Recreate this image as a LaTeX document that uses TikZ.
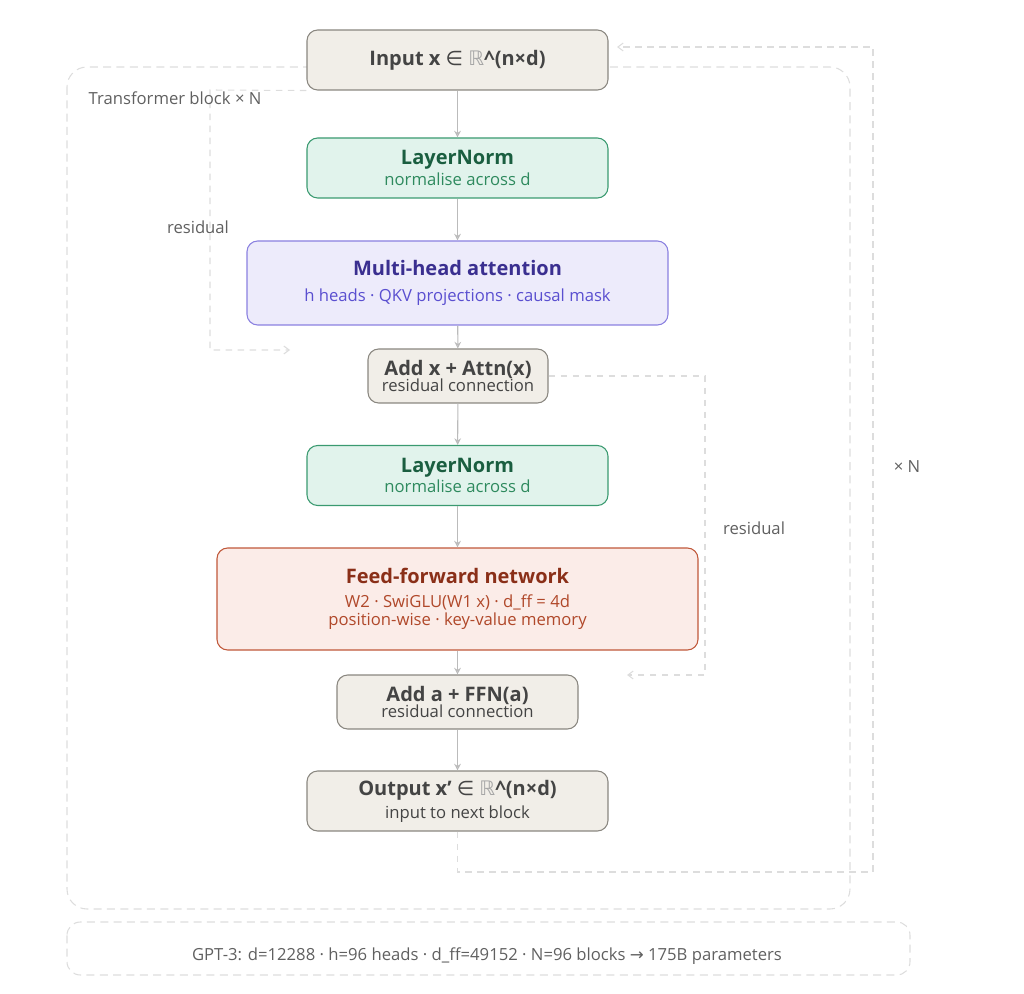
\documentclass[tikz,border=0pt]{standalone}
\usepackage{fontspec}
\setmainfont{Open Sans}
\newfontfamily\symf{DejaVu Sans}
\usetikzlibrary{arrows.meta}
\definecolor{nfill}{HTML}{F1EEE8}\definecolor{ndraw}{HTML}{8A8780}\definecolor{ntext}{HTML}{444444}
\definecolor{gfill}{HTML}{E1F3EC}\definecolor{gdraw}{HTML}{3A9A70}\definecolor{gtitle}{HTML}{1A5E40}\definecolor{gsub}{HTML}{2E8A5E}
\definecolor{pfill}{HTML}{EDEBFB}\definecolor{pdraw}{HTML}{8A80E0}\definecolor{ptitle}{HTML}{3A2F90}\definecolor{psub}{HTML}{5A4FD0}
\definecolor{ofill}{HTML}{FBECE8}\definecolor{odraw}{HTML}{C0583A}\definecolor{otitle}{HTML}{8A2F18}\definecolor{osub}{HTML}{B0482A}
\definecolor{dashc}{HTML}{DDDDDD}\definecolor{arr}{HTML}{BBBBBB}
\newcommand{\RR}{{\symf\mdseries\color{gray!70}ℝ}}
\newcommand{\elem}{{\symf\mdseries ∈}}
\tikzset{
 box/.style={rounded corners=8pt, line width=0.8pt, align=center, inner sep=0pt},
 neu/.style={box, fill=nfill, draw=ndraw, text=ntext},
 grn/.style={box, fill=gfill, draw=gdraw},
 pur/.style={box, fill=pfill, draw=pdraw},
 org/.style={box, fill=ofill, draw=odraw},
 flow/.style={draw=arr, line width=0.8pt, -{Stealth[length=5pt,width=5pt,open]}},
 res/.style={draw=dashc, line width=0.8pt, dash pattern=on 5pt off 4pt, -{Straight Barb[length=4pt,width=6pt]}},
 frame/.style={draw=dashc, line width=0.8pt, dash pattern=on 6pt off 4pt},
 lab/.style={text=ntext!85, font=\fontsize{12.5}{15}\selectfont},
}
\newcommand{\ttl}[1]{{\fontsize{15}{17}\selectfont\bfseries #1}}
\newcommand{\sub}[1]{{\fontsize{12.5}{15}\selectfont #1}}
\begin{document}
\begin{tikzpicture}[x=0.75pt,y=-0.75pt]
\useasboundingbox (0,0) rectangle (1024,994);
\draw[frame, rounded corners=15pt] (67,67) rectangle (850,909);
\draw[frame, rounded corners=10pt] (67,922) rectangle (910,975);
\node[neu, minimum width=301*0.75pt, minimum height=60*0.75pt] (in) at (457.5,60) {\ttl{Input x \elem\ \RR\^{}(n×d)}};
\node[grn, minimum width=301*0.75pt, minimum height=60*0.75pt] (ln1) at (457.5,168) {\color{gtitle}\ttl{LayerNorm}\\[1pt]\color{gsub}\sub{normalise across d}};
\node[pur, minimum width=421*0.75pt, minimum height=84*0.75pt] (mha) at (457.5,283) {\color{ptitle}\ttl{Multi-head attention}\\[7pt]\color{psub}\sub{h heads · QKV projections · causal mask}};
\node[neu, minimum width=180*0.75pt, minimum height=54*0.75pt] (add1) at (458,376) {\ttl{Add x + Attn(x)}\\[0pt]\sub{residual connection}};
\node[grn, minimum width=301*0.75pt, minimum height=60*0.75pt] (ln2) at (457.5,475.5) {\color{gtitle}\ttl{LayerNorm}\\[1pt]\color{gsub}\sub{normalise across d}};
\node[org, minimum width=481*0.75pt, minimum height=102*0.75pt] (ffn) at (457.5,599) {\color{otitle}\ttl{Feed-forward network}\\[6pt]\color{osub}\sub{W2 · SwiGLU(W1 x) · d\_ff = 4d}\\[2pt]\color{osub}\sub{position-wise · key-value memory}};
\node[neu, minimum width=241*0.75pt, minimum height=54*0.75pt] (add2) at (457.5,702) {\ttl{Add a + FFN(a)}\\[0pt]\sub{residual connection}};
\node[neu, minimum width=301*0.75pt, minimum height=60*0.75pt] (out) at (457.5,801) {\ttl{Output x{\char"0027} \elem\ \RR\^{}(n×d)}\\[3pt]\sub{input to next block}};
\draw[flow] (in) -- (ln1);
\draw[flow] (ln1) -- (mha);
\draw[flow] (mha) -- (add1);
\draw[flow] (add1) -- (ln2);
\draw[flow] (ln2) -- (ffn);
\draw[flow] (ffn) -- (add2);
\draw[flow] (add2) -- (out);
\coordinate (r1e) at (290,350);
\coordinate (r2e) at (627,675);
\coordinate (loope) at (617,47);
\draw[res] (in.south west) -- (210,90) -- (210,350) -- (r1e);
\draw[res] (add1.east) -- (705,376) -- (705,675) -- (r2e);
\draw[res] (out.south) -- (457.5,872) -- (873,872) -- (873,47) -- (loope);
\node[lab, anchor=west] (tb) at (84,98) {Transformer block × N};
\node[lab] (l1) at (198,227) {residual};
\node[lab] (l2) at (754,528) {residual};
\node[lab] (l3) at (907,467) {× N};
\node[lab] (foot) at (487,956) {GPT-3: d=12288 · h=96 heads · d\_ff=49152 · N=96 blocks {\symf→} 175B parameters};
\end{tikzpicture}
\end{document}
